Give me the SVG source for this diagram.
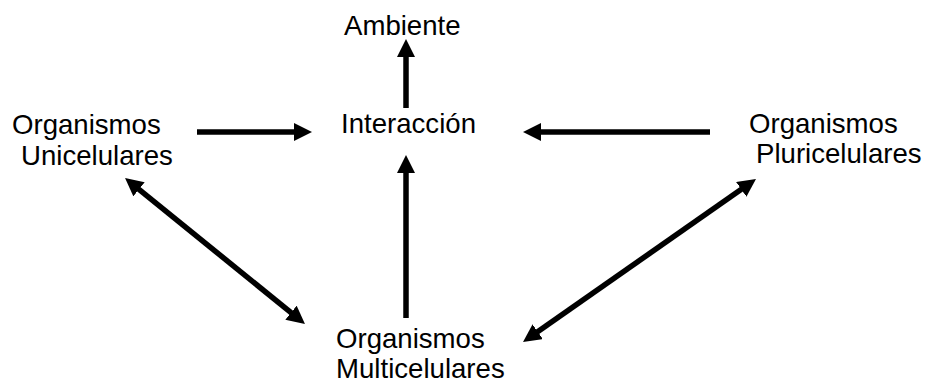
<svg xmlns="http://www.w3.org/2000/svg" width="930" height="383" viewBox="0 0 930 383">
<style>
text{font-family:"Liberation Sans",Arial,sans-serif;font-size:27.6px;fill:#000}
.c{stroke:#000;stroke-width:5.5;fill:none}
</style>
<defs>
<marker id="ah" viewBox="0 0 18 18" refX="8" refY="9" markerWidth="18" markerHeight="18" markerUnits="userSpaceOnUse" orient="auto-start-reverse">
<path d="M0,0 L18,9 L0,18 z" fill="#000"/>
</marker>
</defs>
<rect width="930" height="383" fill="#fff"/>
<g id="connectors">
<line class="c" x1="406" y1="108" x2="406" y2="49" marker-end="url(#ah)"/>
<line class="c" x1="197" y1="132" x2="302" y2="132" marker-end="url(#ah)"/>
<line class="c" x1="710" y1="132" x2="533" y2="132" marker-end="url(#ah)"/>
<line class="c" x1="406" y1="318" x2="406" y2="165" marker-end="url(#ah)"/>
<line class="c" x1="132.8" y1="184.3" x2="297.2" y2="317.7" marker-start="url(#ah)" marker-end="url(#ah)"/>
<line class="c" x1="747.8" y1="184.7" x2="531.2" y2="336.3" marker-start="url(#ah)" marker-end="url(#ah)"/>
</g>
<g id="ambiente"><text x="344" y="35">Ambiente</text></g>
<g id="interaccion"><text x="341" y="133">Interacción</text></g>
<g id="unicelulares"><text x="12" y="134">Organismos</text><text x="21" y="165">Unicelulares</text></g>
<g id="pluricelulares"><text x="749" y="133">Organismos</text><text x="756" y="163">Pluricelulares</text></g>
<g id="multicelulares"><text x="336" y="348">Organismos</text><text x="336" y="378">Multicelulares</text></g>
</svg>
